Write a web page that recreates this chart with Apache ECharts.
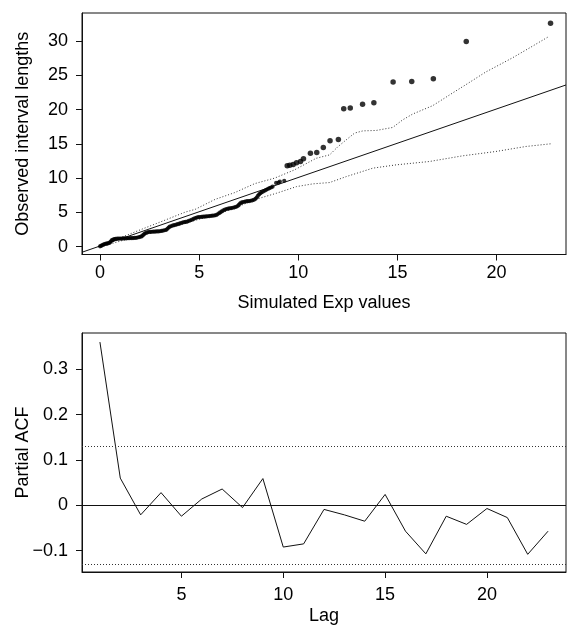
<!DOCTYPE html>
<html>
<head>
<meta charset="utf-8">
<script src="https://cdn.jsdelivr.net/npm/echarts@6/dist/echarts.min.js"></script>
<style>
html,body{margin:0;padding:0;background:#fff;}
#c{width:567px;height:629px;}
</style>
</head>
<body>
<div id="c"></div>
<script>
// ---- Top panel: QQ plot (Simulated Exp values vs Observed interval lengths)
const qqX = [0.00,0.05,0.10,0.15,0.20,0.26,0.32,0.38,0.44,0.50,0.55,0.60,0.66,0.72,0.78,0.86,0.94,1.02,1.10,1.18,1.26,1.34,1.42,1.50,1.58,1.66,1.74,1.82,1.90,1.98,2.06,2.12,2.18,2.24,2.30,2.38,2.46,2.54,2.62,2.70,2.78,2.86,2.94,3.02,3.10,3.18,3.26,3.34,3.40,3.46,3.52,3.60,3.68,3.76,3.84,3.92,4.00,4.08,4.16,4.24,4.32,4.40,4.48,4.56,4.64,4.72,4.80,4.88,4.96,5.04,5.12,5.20,5.28,5.36,5.44,5.52,5.60,5.68,5.76,5.84,5.92,6.00,6.06,6.14,6.22,6.30,6.38,6.46,6.54,6.62,6.70,6.78,6.86,6.94,7.00,7.06,7.12,7.20,7.28,7.36,7.44,7.52,7.60,7.68,7.76,7.84,7.90,7.96,8.02,8.08,8.14,8.22,8.30,8.38,8.46,8.54,8.62,8.70,8.88,9.00,9.07,9.29,
  9.44,9.57,9.74,9.91,10.11,10.26,10.61,10.93,11.26,11.60,12.02,12.29,12.62,13.24,13.81,14.78,15.72,16.81,18.47,22.72];
const qqY = [0.05,0.12,0.20,0.28,0.35,0.40,0.44,0.48,0.52,0.62,0.78,0.95,1.05,1.12,1.16,1.17,1.18,1.18,1.19,1.20,1.21,1.22,1.23,1.24,1.25,1.26,1.28,1.30,1.34,1.40,1.46,1.55,1.72,1.88,1.98,2.08,2.14,2.16,2.18,2.19,2.20,2.22,2.23,2.25,2.30,2.35,2.40,2.46,2.62,2.80,2.92,3.02,3.10,3.16,3.22,3.28,3.36,3.44,3.52,3.58,3.62,3.66,3.76,3.86,3.94,4.06,4.18,4.26,4.30,4.33,4.36,4.38,4.40,4.42,4.44,4.46,4.50,4.52,4.55,4.60,4.72,4.88,5.00,5.14,5.30,5.42,5.50,5.56,5.60,5.64,5.68,5.74,5.82,5.92,6.10,6.30,6.42,6.50,6.56,6.60,6.64,6.66,6.70,6.76,6.84,6.98,7.18,7.42,7.62,7.80,7.92,8.04,8.16,8.30,8.42,8.54,8.64,8.76,9.30,9.36,9.50,9.62,
  11.80,11.90,11.99,12.24,12.43,12.82,13.65,13.74,14.47,15.45,15.64,20.13,20.23,20.80,21.00,24.03,24.12,24.52,29.93,32.60];
const upperX = [0.00,1.80,3.30,4.30,4.80,5.80,6.80,7.80,8.80,9.80,10.90,11.58,12.00,12.42,12.84,13.26,13.93,14.76,15.27,15.77,16.77,17.28,17.78,18.45,19.46,20.79,21.80,22.60];
const upperY = [0.10,2.20,3.90,5.05,5.45,6.90,7.90,9.20,10.00,11.20,12.90,13.40,14.60,15.60,16.58,16.90,16.96,17.40,18.52,19.36,20.57,21.50,22.43,23.64,25.50,27.54,29.24,30.61];
const lowerX = [0.05,1.00,2.00,3.00,4.00,5.00,6.00,7.00,7.90,8.90,9.91,10.74,11.58,12.42,13.76,14.93,16.61,18.29,19.96,21.47,22.72];
const lowerY = [0.00,0.80,1.60,2.30,3.20,4.00,4.80,5.90,6.95,7.80,8.77,9.17,9.36,10.23,11.46,11.94,12.43,13.26,13.89,14.62,15.01];
const refX = [-0.91,23.5];
const refY = [-0.81,23.6];
const topXTicks = [0,5,10,15,20];
const topYTicks = [0,5,10,15,20,25,30];

// ---- Bottom panel: partial autocorrelation
const lags = [1,2,3,4,5,6,7,8,9,10,11,12,13,14,15,16,17,18,19,20,21,22,23];
const pacf = [0.360,0.060,-0.021,0.028,-0.024,0.014,0.036,-0.005,0.059,-0.092,-0.085,-0.009,-0.021,-0.035,0.024,-0.057,-0.107,-0.024,-0.042,-0.007,-0.027,-0.108,-0.057];
const ciBound = 0.127;
const botXTicks = [5,10,15,20];
const botYTicks = [-0.1,0,0.1,0.2,0.3];

const zip = (a,b) => a.map((v,i)=>[v,b[i]]);
const FONT = 'Liberation Sans, Arial, Helvetica, sans-serif';
const FS = 18;
const INK = '#111';
const DOT = '#333';

function axisCommon(ticks, fmt, margin){
  return {
    axisLine:{show:true,onZero:false,lineStyle:{color:INK,width:1}},
    axisTick:{show:true,inside:false,length:6,lineStyle:{color:INK,width:1},customValues:ticks},
    axisLabel:{show:true,color:'#000',fontFamily:FONT,fontSize:FS,margin:margin,customValues:ticks,formatter:fmt},
    splitLine:{show:false},
    nameMoveOverlap:false,
    nameTextStyle:{color:'#000',fontFamily:FONT,fontSize:FS}
  };
}
const fmtInt = v => String(Math.round(v));
const fmtDec = v => Math.abs(v)<1e-9 ? '0' : (v<0 ? '\u2212' + Math.abs(v).toFixed(1) : v.toFixed(1));

const chart = echarts.init(document.getElementById('c'), null, {renderer:'canvas'});
chart.setOption({
  backgroundColor:'#fff',
  animation:false,
  grid:[
    {left:82, top:13, width:484, height:241.5, show:true, borderColor:INK, borderWidth:1, containLabel:false, outerBoundsMode:'none'},
    {left:82, top:333, width:484, height:239, show:true, borderColor:INK, borderWidth:1, containLabel:false, outerBoundsMode:'none'}
  ],
  xAxis:[
    Object.assign({type:'value', gridIndex:0, min:-0.91, max:23.5, name:'Simulated Exp values', nameLocation:'middle', nameGap:40}, axisCommon(topXTicks, fmtInt, 10)),
    Object.assign({type:'value', gridIndex:1, min:0.12, max:23.88, name:'Lag', nameLocation:'middle', nameGap:35}, axisCommon(botXTicks, fmtInt, 14))
  ],
  yAxis:[
    Object.assign({type:'value', gridIndex:0, min:-1.14, max:34.1, name:'Observed interval lengths', nameLocation:'middle', nameGap:50, nameRotate:90}, axisCommon(topYTicks, fmtInt, 14)),
    Object.assign({type:'value', gridIndex:1, min:-0.147, max:0.38, name:'Partial ACF', nameLocation:'middle', nameGap:50, nameRotate:90}, axisCommon(botYTicks, fmtDec, 14))
  ],
  series:[
    {type:'line', xAxisIndex:0, yAxisIndex:0, data:zip(refX,refY), showSymbol:false, symbol:'none', lineStyle:{color:INK,width:1}, z:2, silent:true},
    {type:'line', xAxisIndex:0, yAxisIndex:0, data:zip(upperX,upperY), showSymbol:false, symbol:'none', lineStyle:{color:DOT,width:1,type:[1,2]}, z:2, silent:true},
    {type:'line', xAxisIndex:0, yAxisIndex:0, data:zip(lowerX,lowerY), showSymbol:false, symbol:'none', lineStyle:{color:DOT,width:1,type:[1,2]}, z:2, silent:true},
    {type:'scatter', xAxisIndex:0, yAxisIndex:0, data:zip(qqX,qqY), symbol:'circle', symbolSize:(v)=> v[0] < 9.4 ? 4.2 : 5.5, itemStyle:{color:'#000'}, z:5, silent:true},
    {type:'line', xAxisIndex:1, yAxisIndex:1, data:zip(lags,pacf), showSymbol:false, symbol:'none', lineStyle:{color:INK,width:1}, z:3, silent:true,
      markLine:{silent:true, symbol:['none','none'], label:{show:false},
        data:[
          {yAxis:0, lineStyle:{color:INK,width:1,type:'solid'}},
          {yAxis:ciBound, lineStyle:{color:DOT,width:1,type:[1,2]}},
          {yAxis:-ciBound, lineStyle:{color:DOT,width:1,type:[1,2]}}
        ]}
    }
  ]
});
</script>
</body>
</html>
